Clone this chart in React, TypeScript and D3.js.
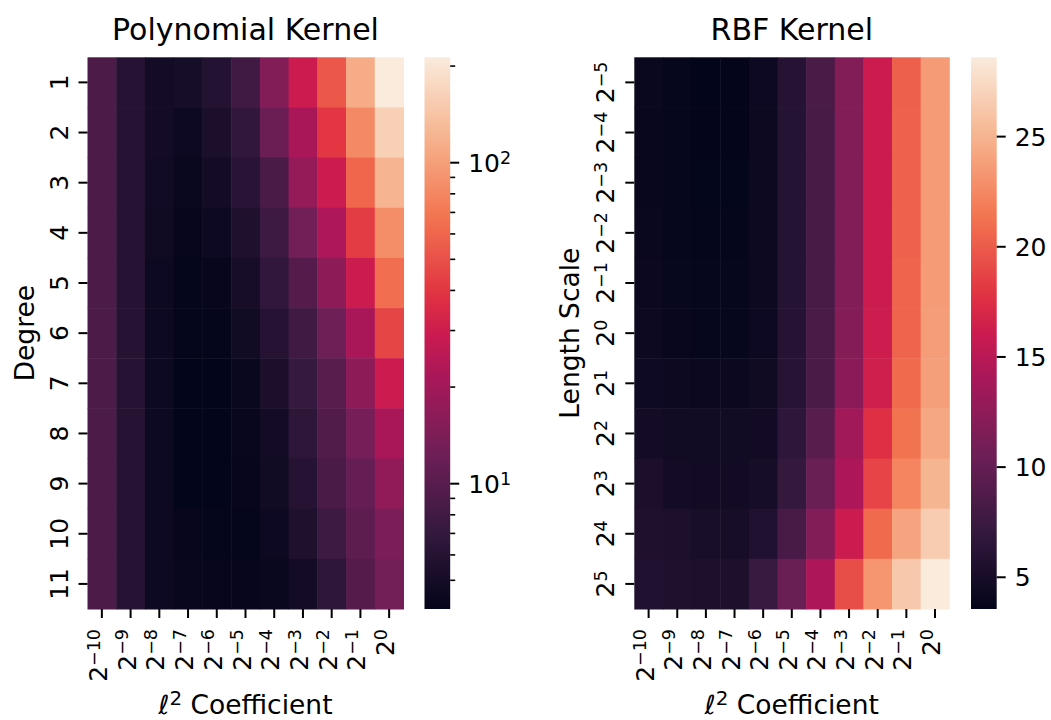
import React from 'react';
import * as d3 from 'd3';

// axis categories
const coefExps = [-10, -9, -8, -7, -6, -5, -4, -3, -2, -1, 0];
const polyDegrees = ['1', '2', '3', '4', '5', '6', '7', '8', '9', '10', '11'];
const lengthExps = [-5, -4, -3, -2, -1, 0, 1, 2, 3, 4, 5];

// polynomial kernel values (rows = degree, cols = l2 coefficient)
const polyValues = [
  [8.9, 6.05, 4.96, 5.06, 5.82, 7.97, 15.0, 29.5, 53.3, 113, 213],
  [8.9, 6.05, 4.96, 4.58, 5.37, 6.81, 11.85, 21.5, 40.4, 82.3, 161],
  [8.9, 6.05, 4.8, 4.41, 4.96, 6.29, 8.64, 17.6, 29.5, 60.0, 122],
  [8.9, 6.05, 4.7, 4.24, 4.58, 5.59, 7.67, 12.8, 22.3, 42.0, 85.7],
  [8.9, 6.05, 4.6, 4.15, 4.24, 5.16, 6.81, 9.72, 16.3, 29.5, 65.0],
  [8.9, 6.05, 4.6, 4.15, 4.15, 4.77, 6.05, 7.97, 12.3, 21.5, 45.5],
  [8.9, 6.05, 4.6, 4.07, 4.07, 4.41, 5.37, 7.23, 10.1, 16.3, 29.5],
  [8.9, 6.05, 4.6, 4.07, 4.07, 4.32, 4.96, 6.55, 9.34, 13.3, 21.5],
  [8.9, 6.05, 4.6, 4.07, 4.07, 4.24, 4.77, 6.05, 8.64, 11.4, 16.9],
  [8.9, 6.05, 4.6, 4.24, 4.15, 4.15, 4.58, 5.59, 7.67, 10.5, 13.9],
  [8.9, 6.05, 4.6, 4.32, 4.24, 4.24, 4.41, 4.96, 6.55, 9.72, 12.8],
];

// RBF kernel values (rows = length scale, cols = l2 coefficient)
const rbfValues = [
  [4.06, 3.81, 3.56, 3.6, 4.31, 6.06, 8.32, 11.8, 16.1, 20.3, 23.6],
  [4.0, 3.75, 3.6, 3.6, 4.3, 6.0, 8.3, 11.8, 16.1, 20.4, 23.6],
  [4.0, 3.8, 3.65, 3.65, 4.3, 6.0, 8.3, 11.8, 16.1, 20.4, 23.6],
  [4.05, 3.8, 3.7, 3.7, 4.3, 6.0, 8.3, 11.8, 16.1, 20.4, 23.6],
  [4.1, 3.85, 3.75, 3.75, 4.3, 6.0, 8.3, 11.8, 16.1, 20.5, 23.6],
  [4.2, 3.9, 3.8, 3.8, 4.35, 6.05, 8.35, 11.9, 16.2, 20.5, 23.7],
  [4.45, 4.2, 4.1, 4.1, 4.5, 6.1, 8.5, 12.3, 16.4, 20.8, 23.8],
  [4.8, 4.6, 4.55, 4.55, 4.7, 6.6, 9.3, 13.6, 17.6, 21.3, 24.3],
  [5.3, 4.8, 4.7, 4.7, 4.95, 7.07, 10.3, 14.3, 18.8, 22.3, 25.1],
  [5.56, 5.45, 5.1, 5.06, 5.7, 8.3, 11.8, 16.1, 20.8, 24.1, 26.6],
  [5.7, 5.56, 5.45, 5.44, 7.3, 10.3, 14.3, 19.3, 23.3, 26.3, 28.6],
];

// colorbar ticks
const polyMajorTicks = [10, 100];
const polyMajorExps = [1, 2];
const polyMinorTicks = [5, 6, 7, 8, 9, 20, 30, 40, 50, 60, 70, 80, 90, 200];
const rbfTicks = [5, 10, 15, 20, 25];

// seaborn "rocket" approximation
const rocketPos = [0, 1 / 7, 2 / 7, 3 / 7, 0.5, 4 / 7, 5 / 7, 6 / 7, 1];
const rocketCols = ['#03051a', '#35193e', '#701f57', '#ad1759', '#cb1b4f', '#e13342', '#f37651', '#f6b48f', '#faebdd'];
const rocketScale = d3.scaleLinear<string>().domain(rocketPos).range(rocketCols).interpolate(d3.interpolateRgb).clamp(true);
const rocket = (t: number) => rocketScale(t);

const FONT = 'DejaVu Sans';
const TICK_FS = 25;
const LABEL_FS = 26.5;
const TITLE_FS = 30;
const TOP = 57.3;
const BOTTOM = 609;

const Pow = ({ base, exp }: { base: string; exp: number }) => (
  <>
    <tspan>{base}</tspan>
    <tspan dy="-0.42em" fontSize="0.7em">{exp < 0 ? '\u2212' + Math.abs(exp) : String(exp)}</tspan>
  </>
);

type PanelProps = {
  id: string;
  x0: number;
  w: number;
  cbX: number;
  title: string;
  ylabel: string;
  ylabelX: number;
  values: number[][];
  rowLabels: (i: number) => React.ReactNode;
  color: (v: number) => string;
  cbar: React.ReactNode;
};

const Panel = ({ id, x0, w, cbX, title, ylabel, ylabelX, values, rowLabels, color, cbar }: PanelProps) => {
  const xScale = d3.scaleBand<number>().domain(d3.range(coefExps.length)).range([x0, x0 + w]);
  const yScale = d3.scaleBand<number>().domain(d3.range(values.length)).range([TOP, BOTTOM]);
  const cx = x0 + w / 2;
  return (
    <g>
      <text x={cx} y={40} textAnchor="middle" fontSize={TITLE_FS}>{title}</text>
      {values.map((row, r) =>
        row.map((v, c) => (
          <rect key={`${id}-${r}-${c}`} x={xScale(c)} y={yScale(r)}
            width={xScale.bandwidth() + 0.5} height={yScale.bandwidth() + 0.5} fill={color(v)} />
        ))
      )}
      {/* y ticks */}
      {values.map((_, r) => {
        const y = (yScale(r) as number) + yScale.bandwidth() / 2;
        return (
          <g key={`yt-${r}`}>
            <line x1={x0 - 9} x2={x0} y1={y} y2={y} stroke="#000" strokeWidth={2} />
            <text transform={`translate(${x0 - 20},${y}) rotate(-90)`} textAnchor="middle" fontSize={TICK_FS}>
              {rowLabels(r)}
            </text>
          </g>
        );
      })}
      {/* x ticks */}
      {coefExps.map((e, c) => {
        const x = (xScale(c) as number) + xScale.bandwidth() / 2;
        return (
          <g key={`xt-${c}`}>
            <line x1={x} x2={x} y1={BOTTOM} y2={BOTTOM + 9} stroke="#000" strokeWidth={2} />
            <text transform={`translate(${x + 5},${BOTTOM + 20}) rotate(-90)`} textAnchor="end" fontSize={TICK_FS}>
              <Pow base="2" exp={e} />
            </text>
          </g>
        );
      })}
      <text x={cx} y={714} textAnchor="middle" fontSize={LABEL_FS}>
        <tspan>ℓ</tspan>
        <tspan dy="-0.45em" fontSize="0.75em">2</tspan>
        <tspan dy="0.3375em"> Coefficient</tspan>
      </text>
      <text transform={`translate(${ylabelX},${(TOP + BOTTOM) / 2}) rotate(-90)`} textAnchor="middle" fontSize={LABEL_FS}>
        {ylabel}
      </text>
      {/* colorbar */}
      <defs>
        <linearGradient id={`grad-${id}`} x1="0" y1="1" x2="0" y2="0">
          {d3.range(0, 1.0001, 0.02).map((t) => (
            <stop key={t} offset={t} stopColor={rocket(t)} />
          ))}
        </linearGradient>
      </defs>
      <rect x={cbX} y={TOP} width={25.7} height={BOTTOM - TOP} fill={`url(#grad-${id})`} />
      {cbar}
    </g>
  );
};

export default function App() {
  const polyMin = d3.min(polyValues.flat()) as number;
  const polyMax = d3.max(polyValues.flat()) as number;
  const rbfMin = d3.min(rbfValues.flat()) as number;
  const rbfMax = d3.max(rbfValues.flat()) as number;

  const polyT = d3.scaleLog().domain([polyMin, polyMax]).range([0, 1]);
  const rbfT = d3.scaleLinear().domain([rbfMin, rbfMax]).range([0, 1]);

  const polyCb = d3.scaleLog().domain([polyMin, polyMax]).range([BOTTOM, TOP]);
  const rbfCb = d3.scaleLinear().domain([rbfMin, rbfMax]).range([BOTTOM, TOP]);

  const polyCbX = 424.5;
  const rbfCbX = 971;
  const cbW = 25.7;

  const polyBar = (
    <g>
      {polyMinorTicks.filter((v) => v >= polyMin && v <= polyMax).map((v) => (
        <line key={`pm-${v}`} x1={polyCbX + cbW} x2={polyCbX + cbW + 5} y1={polyCb(v)} y2={polyCb(v)} stroke="#000" strokeWidth={1.6} />
      ))}
      {polyMajorTicks.map((v, i) => (
        <g key={`pM-${v}`}>
          <line x1={polyCbX + cbW} x2={polyCbX + cbW + 9} y1={polyCb(v)} y2={polyCb(v)} stroke="#000" strokeWidth={2} />
          <text x={polyCbX + cbW + 18} y={polyCb(v) + 9} fontSize={TICK_FS}>
            <Pow base="10" exp={polyMajorExps[i]} />
          </text>
        </g>
      ))}
    </g>
  );

  const rbfBar = (
    <g>
      {rbfTicks.map((v) => (
        <g key={`rt-${v}`}>
          <line x1={rbfCbX + cbW} x2={rbfCbX + cbW + 9} y1={rbfCb(v)} y2={rbfCb(v)} stroke="#000" strokeWidth={2} />
          <text x={rbfCbX + cbW + 18} y={rbfCb(v) + 9} fontSize={TICK_FS}>{v}</text>
        </g>
      ))}
    </g>
  );

  return (
    <svg width={1051} height={720} style={{ position: 'absolute', left: 0, top: 0, background: '#fff' }}
      fontFamily={FONT} fill="#000">
      <Panel id="poly" x0={87.5} w={316} cbX={polyCbX} title="Polynomial Kernel" ylabel="Degree" ylabelX={34}
        values={polyValues} rowLabels={(i) => polyDegrees[i]} color={(v) => rocket(polyT(v))} cbar={polyBar} />
      <Panel id="rbf" x0={634.3} w={315} cbX={rbfCbX} title="RBF Kernel" ylabel="Length Scale" ylabelX={579}
        values={rbfValues} rowLabels={(i) => <Pow base="2" exp={lengthExps[i]} />} color={(v) => rocket(rbfT(v))} cbar={rbfBar} />
    </svg>
  );
}
